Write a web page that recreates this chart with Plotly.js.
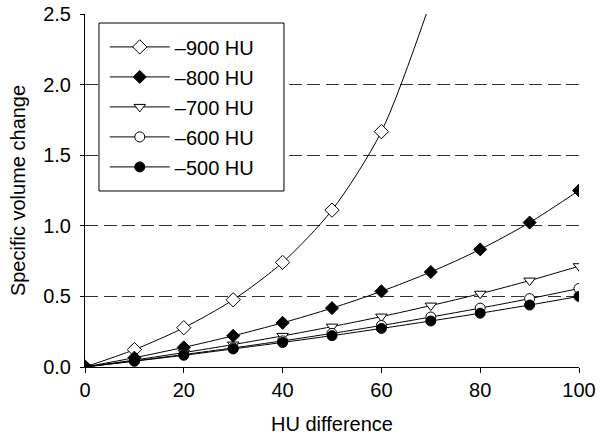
<!DOCTYPE html>
<html><head><meta charset="utf-8">
<script src="https://cdn.plot.ly/plotly-3.0.1.min.js"></script>
<style>body{margin:0;background:#fff}#chart{width:604px;height:436px}</style>
</head><body><div id="chart"></div>
<script>
const hu = [0, 10, 20, 30, 40, 50, 60, 70, 80, 90, 100];
const hu900 = [0, 10, 20, 30, 40, 50, 60, 70];
const v900 = [0, 0.123, 0.278, 0.476, 0.741, 1.111, 1.667, 2.593];
const v800 = [0, 0.066, 0.139, 0.221, 0.313, 0.417, 0.536, 0.673, 0.833, 1.023, 1.25];
const v700 = [0, 0.049, 0.102, 0.159, 0.220, 0.286, 0.357, 0.435, 0.519, 0.612, 0.714];
const v600 = [0, 0.043, 0.088, 0.135, 0.185, 0.238, 0.294, 0.354, 0.417, 0.484, 0.556];
const v500 = [0, 0.041, 0.083, 0.128, 0.174, 0.222, 0.273, 0.326, 0.381, 0.439, 0.500];
const names = ['\u2013900 HU', '\u2013800 HU', '\u2013700 HU', '\u2013600 HU', '\u2013500 HU'];

const font = {family: 'Liberation Sans, Arial, sans-serif', size: 20, color: '#000'};
function tr(x, y, name, symbol, fill, size) {
  return {x: x, y: y, name: name, legendgroup: name, type: 'scatter', mode: 'lines+markers',
    line: {color: '#000', width: 1, shape: 'spline', smoothing: 0.8},
    marker: {symbol: symbol, size: size, color: fill, line: {color: '#000', width: 1}}};
}
const data = [
  tr(hu900, v900, names[0], 'diamond', '#fff', 11),
  tr(hu, v800, names[1], 'diamond', '#000', 10),
  tr(hu, v700, names[2], 'triangle-down', '#fff', 10),
  tr(hu, v600, names[3], 'circle', '#fff', 10),
  tr(hu, v500, names[4], 'circle', '#000', 10)
];
const layout = {
  width: 604, height: 436,
  margin: {l: 85, r: 25, t: 14, b: 69},
  paper_bgcolor: '#fff', plot_bgcolor: '#fff',
  font: font,
  showlegend: true,
  legend: {x: 0.04, y: 0.962, xanchor: 'left', yanchor: 'top', bgcolor: 'rgba(0,0,0,0)',
    borderwidth: 0, font: font, itemwidth: 60, traceorder: 'grouped', tracegroupgap: 1},
  xaxis: {range: [0, 100], dtick: 20, tick0: 0, showline: true, linecolor: '#000', linewidth: 1,
    ticks: 'outside', ticklen: 5, tickcolor: '#000', showgrid: false, zeroline: false,
    title: {text: 'HU difference', font: font, standoff: 16}, tickfont: font},
  yaxis: {range: [0, 2.5], dtick: 0.5, tick0: 0, tickformat: '.1f', showline: true, linecolor: '#000', linewidth: 1,
    ticks: 'outside', ticklen: 4, tickcolor: '#000', showgrid: true, gridcolor: '#333', griddash: '13px,5.5px',
    gridwidth: 1.2, zeroline: false, ticklabelstandoff: 5,
    title: {text: 'Specific volume change', font: font, standoff: 12}, tickfont: font},
  shapes: [{type: 'rect', xref: 'paper', yref: 'paper', x0: 0.0283, x1: 0.4028, y0: 0.4986, y1: 0.9745,
    fillcolor: '#fff', line: {color: '#000', width: 1}, layer: 'above'}]
};
Plotly.newPlot('chart', data, layout, {displayModeBar: false, staticPlot: true});
</script></body></html>
